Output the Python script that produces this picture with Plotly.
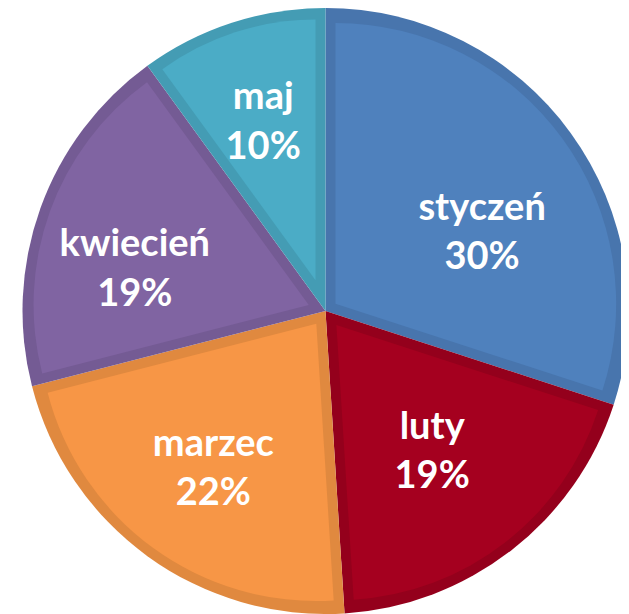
import plotly.graph_objects as go
import math

# Data
months = ["styczeń", "luty", "marzec", "kwiecień", "maj"]
values = [30, 19, 22, 19, 10]

# Styles
fill_colors = ["#4F81BD", "#A5001F", "#F79646", "#8064A2", "#4BACC6"]
border_colors = ["#4875AD", "#94001C", "#E0893F", "#745B94", "#449CB4"]
label_pull = [0.116, 0.019, 0.112, 0.102, 0.0]   # pushes labels outward
label_turn = [8.5, 0.0, 0.0, -6.5, 0.0]          # small angular nudge of labels (deg)

# page body has an 8px margin, so the figure is 8px smaller than the window
W, H = 621, 606
band = 10          # border band width in px
x0_px = 14
full_dom = dict(x=[x0_px / W, 1.0], y=[0.0, 1.0])
R = min(W - x0_px, H) / 2
cx_px = x0_px + (W - x0_px) / 2
cy_px = H / 2

def dom(radius):
    return dict(x=[(cx_px - radius) / W, (cx_px + radius) / W],
                y=[(H - cy_px - radius) / H, (H - cy_px + radius) / H])

inner_dom = dom(R - band)
total = sum(values)

fig = go.Figure()

# base: darker border colour, full radius
fig.add_trace(go.Pie(
    labels=months, values=values, sort=False, direction="clockwise", rotation=0,
    marker=dict(colors=border_colors, line=dict(width=0)),
    textinfo="none", hoverinfo="skip", domain=full_dom, showlegend=False,
))

# inner lighter area of each slice (inset by band width)
for k in range(len(values)):
    theta = 2 * math.pi * values[k] / total
    d = band / math.sin(theta / 2)
    p = d / (R - band - d)
    cols = ["rgba(0,0,0,0)"] * len(values)
    cols[k] = fill_colors[k]
    pulls = [0] * len(values)
    pulls[k] = p
    fig.add_trace(go.Pie(
        labels=months, values=values, sort=False, direction="clockwise", rotation=0,
        marker=dict(colors=cols, line=dict(width=0)), pull=pulls,
        textinfo="none", hoverinfo="skip", domain=inner_dom, showlegend=False,
    ))

# labels (one transparent trace per slice so each label can be nudged)
for k in range(len(values)):
    tmpl = [""] * len(values)
    tmpl[k] = "<b>%{label}<br>%{percent:.0%}</b>"
    pulls = [0] * len(values)
    pulls[k] = label_pull[k]
    fig.add_trace(go.Pie(
        labels=months, values=values, sort=False, direction="clockwise",
        rotation=label_turn[k],
        marker=dict(colors=["rgba(0,0,0,0)"] * len(values), line=dict(width=0)),
        pull=pulls,
        texttemplate=tmpl, textposition="inside",
        insidetextorientation="horizontal",
        textfont=dict(family="Lato", size=38, color="white"),
        hoverinfo="skip", domain=dom(264 * (1 + label_pull[k])), showlegend=False,
    ))

fig.update_layout(
    width=W, height=H, margin=dict(l=0, r=0, t=0, b=0),
    paper_bgcolor="white", plot_bgcolor="white", showlegend=False,
    uniformtext=dict(minsize=38, mode="show"),
)

fig.write_html("out.html", config={"displayModeBar": False})
